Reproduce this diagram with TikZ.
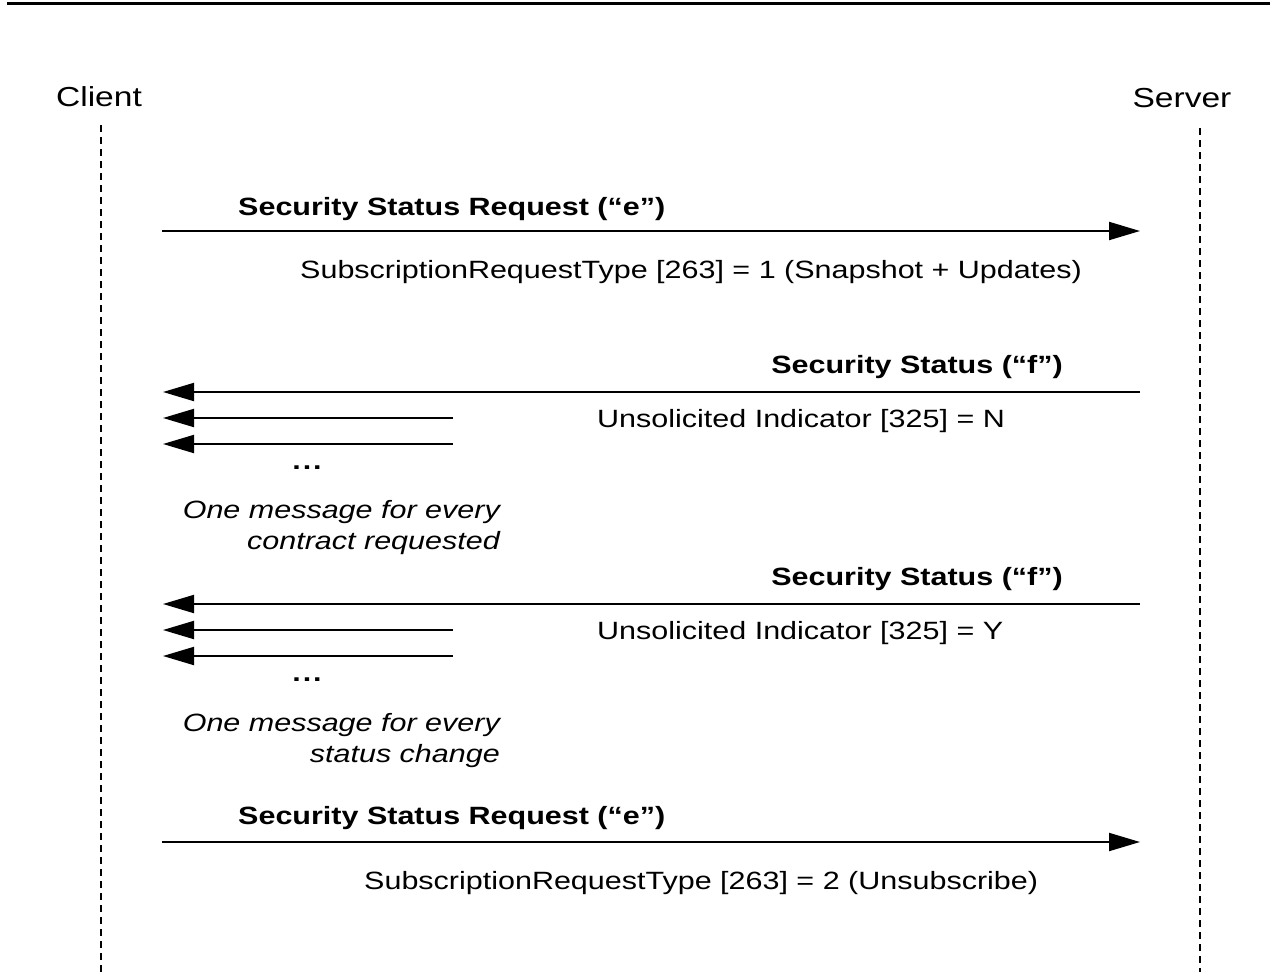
\documentclass[tikz,border=0pt]{standalone}
\usepackage{fontspec}
\setmainfont{Liberation Sans}[FakeStretch=1.22]
\usetikzlibrary{arrows.meta,positioning}

\tikzset{
  msg/.style={line width=2pt,-{Triangle[length=31pt,width=18pt]}},
  lifeline/.style={line width=2pt,dash pattern=on 7pt off 5pt},
  party/.style={font=\fontsize{27.5}{33}\selectfont,inner sep=0pt},
  msgname/.style={font=\fontsize{25}{31}\selectfont\bfseries,inner sep=0pt},
  msgfield/.style={font=\fontsize{25}{31}\selectfont,inner sep=0pt},
  msgnote/.style={font=\fontsize{25}{31}\selectfont\itshape,align=right,inner sep=0pt}
}

\begin{document}
\begin{tikzpicture}[x=1pt,y=-1pt]
  \useasboundingbox (0,0) rectangle (1277,972);
  \draw[line width=3.5pt] (7,3.5) -- (1270,3.5);

  % participants
  \node[party,anchor=base] (client) at (99,106) {Client};
  \node[party,anchor=base] (server) at (1182,107) {Server};
  \coordinate (clientEnd) at (101,972);
  \coordinate (serverEnd) at (1200,972);
  \draw[lifeline] (101,125) -- (clientEnd);
  \draw[lifeline] (1200,128) -- (serverEnd);

  % subscribe
  \coordinate (subFrom) at (162,231);
  \coordinate (subTo) at (1140,231);
  \draw[msg] (subFrom) -- (subTo);
  \node[msgname,anchor=base west] (subName) at (238,215) {Security Status Request (“e”)};
  \node[msgfield,anchor=base west] (subType) at (300,278) {SubscriptionRequestType [263] = 1 (Snapshot + Updates)};

  % snapshot
  \coordinate (snapFrom) at (1140,392);
  \coordinate (snapTo) at (163,392);
  \coordinate (snapFromB) at (453,418);
  \coordinate (snapToB) at (163,418);
  \coordinate (snapFromC) at (453,444);
  \coordinate (snapToC) at (163,444);
  \draw[msg] (snapFrom) -- (snapTo);
  \draw[msg] (snapFromB) -- (snapToB);
  \draw[msg] (snapFromC) -- (snapToC);
  \node[msgname,anchor=base east] (snapName) at (1063,373) {Security Status (“f”)};
  \node[msgfield,anchor=base west] (snapInd) at (597,427) {Unsolicited Indicator [325] = N};
  \node[msgname,anchor=base] (snapDots) at (307,469) {.\hspace{2pt}.\hspace{2pt}.};
  \node[msgnote,anchor=north east] (snapNote) at (500,500) {One message for every\\contract requested};

  % updates
  \coordinate (updFrom) at (1140,604);
  \coordinate (updTo) at (163,604);
  \coordinate (updFromB) at (453,630);
  \coordinate (updToB) at (163,630);
  \coordinate (updFromC) at (453,656);
  \coordinate (updToC) at (163,656);
  \draw[msg] (updFrom) -- (updTo);
  \draw[msg] (updFromB) -- (updToB);
  \draw[msg] (updFromC) -- (updToC);
  \node[msgname,anchor=base east] (updName) at (1063,585) {Security Status (“f”)};
  \node[msgfield,anchor=base west] (updInd) at (597,639) {Unsolicited Indicator [325] = Y};
  \node[msgname,anchor=base] (updDots) at (307,681) {.\hspace{2pt}.\hspace{2pt}.};
  \node[msgnote,anchor=north east] (updNote) at (500,713) {One message for every\\status change};

  % unsubscribe
  \coordinate (unsubFrom) at (162,842);
  \coordinate (unsubTo) at (1140,842);
  \draw[msg] (unsubFrom) -- (unsubTo);
  \node[msgname,anchor=base west] (unsubName) at (238,824) {Security Status Request (“e”)};
  \node[msgfield,anchor=base west] (unsubType) at (364,889) {SubscriptionRequestType [263] = 2 (Unsubscribe)};
\end{tikzpicture}
\end{document}
